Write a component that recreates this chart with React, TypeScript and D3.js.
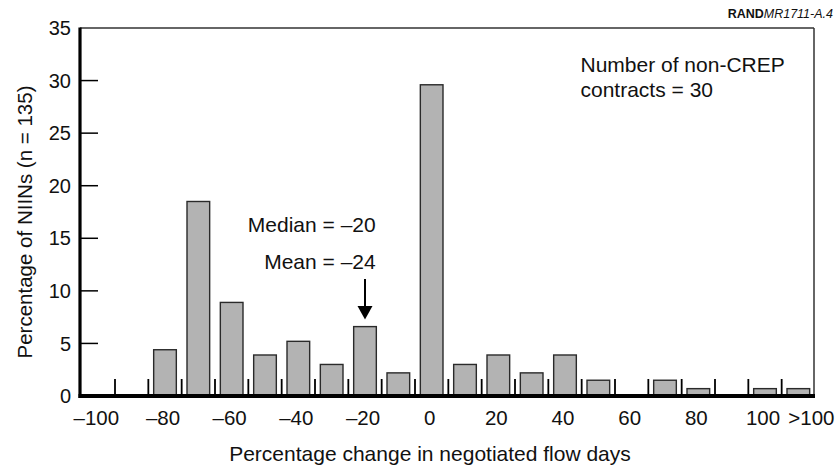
import React from "react";
import * as d3 from "d3";

const binCenters = [-80, -70, -60, -50, -40, -30, -20, -10, 0, 10, 20, 30, 40, 50, 60, 70, 80, 90, 100, 110];
const percentages = [4.4, 18.5, 8.9, 3.9, 5.2, 3.0, 6.6, 2.2, 29.6, 3.0, 3.9, 2.2, 3.9, 1.5, 0, 1.5, 0.7, 0, 0.7, 0.7];
const xLabelValues = [-100, -80, -60, -40, -20, 0, 20, 40, 60, 80, 100];
const xLabelTexts = ["\u2013100", "\u201380", "\u201360", "\u201340", "\u201320", "0", "20", "40", "60", "80", "100"];
const overflowLabelValue = 110;
const overflowLabelText = ">100";
const binEdgeTicks = [-95, -85, -75, -65, -55, -45, -35, -25, -15, -5, 5, 15, 25, 35, 45, 55, 65, 75, 85, 95, 105];
const yTickValues = [0, 5, 10, 15, 20, 25, 30, 35];
const medianValue = -20;

const W = 837;
const H = 467;
const left = 80;
const right = 814;
const top = 28;
const bottom = 396;
const FONT = "'Liberation Sans', Arial, Helvetica, sans-serif";

export default function App() {
  const x = d3.scaleLinear().domain([-105.5, 114.7]).range([left, right]);
  const y = d3.scaleLinear().domain([0, 35]).range([bottom, top]);
  const halfBar = 3.4;
  const ax = x(medianValue);

  return (
    <svg width={W} height={H} style={{ position: "absolute", left: 0, top: 0, background: "#fff" }} fontFamily={FONT}>
      {binCenters.map((c, i) =>
        percentages[i] > 0 ? (
          <rect
            key={c}
            x={x(c - halfBar)}
            y={y(percentages[i])}
            width={x(c + halfBar) - x(c - halfBar)}
            height={y(0) - y(percentages[i])}
            fill="#b3b3b3"
            stroke="#2a2a2a"
            strokeWidth={1.4}
          />
        ) : null
      )}
      <line x1={left} x2={right} y1={top} y2={top} stroke="#333" strokeWidth={1.5} />
      <line x1={right} x2={right} y1={top} y2={bottom} stroke="#333" strokeWidth={1.5} />
      {binEdgeTicks.map((t) => (
        <line key={t} x1={x(t)} x2={x(t)} y1={bottom} y2={bottom - 17} stroke="#000" strokeWidth={1.8} />
      ))}
      {yTickValues.filter((v) => v > 0 && v < 35).map((v) => (
        <line key={v} x1={left} x2={left + 18} y1={y(v)} y2={y(v)} stroke="#000" strokeWidth={1.5} />
      ))}
      <line x1={left} x2={left} y1={top - 0.5} y2={bottom + 2} stroke="#000" strokeWidth={3.2} />
      <line x1={left - 1.5} x2={right + 1} y1={bottom} y2={bottom} stroke="#000" strokeWidth={4} />
      {yTickValues.map((v) => (
        <text key={v} x={71} y={y(v)} dy="0.36em" textAnchor="end" fontSize={20} fill="#111">
          {v}
        </text>
      ))}
      {xLabelValues.map((v, i) => (
        <text key={v} x={x(v) - 2} y={425} textAnchor="middle" fontSize={20.5} fill="#111">
          {xLabelTexts[i]}
        </text>
      ))}
      <text x={x(overflowLabelValue) - 10} y={425} textAnchor="start" fontSize={20.5} fill="#111">
        {overflowLabelText}
      </text>
      <text x={(left + right) / 2 - 17} y={461} textAnchor="middle" fontSize={21} fill="#111">
        Percentage change in negotiated flow days
      </text>
      <text
        transform={`translate(32,222) rotate(-90)`}
        textAnchor="middle"
        fontSize={20.5}
        fill="#111"
      >
        Percentage of NIINs (n = 135)
      </text>
      <text x={580.5} y={71.7} fontSize={21} fill="#111">Number of non-CREP</text>
      <text x={580.5} y={96.7} fontSize={21} fill="#111">contracts = 30</text>
      <text x={375.7} y={232.3} textAnchor="end" fontSize={21} fill="#111">Median = {"\u2013"}20</text>
      <text x={375.7} y={269} textAnchor="end" fontSize={21} fill="#111">Mean = {"\u2013"}24</text>
      <line x1={ax} x2={ax} y1={279} y2={307} stroke="#000" strokeWidth={2} />
      <path d={`M${ax - 7.5},306 L${ax + 7.5},306 L${ax},319.5 Z`} fill="#000" />
      <text x={833} y={18} textAnchor="end" fontSize={12.5} fill="#111">
        <tspan fontWeight="bold">RAND</tspan>
        <tspan fontStyle="italic">MR1711-A.4</tspan>
      </text>
    </svg>
  );
}
